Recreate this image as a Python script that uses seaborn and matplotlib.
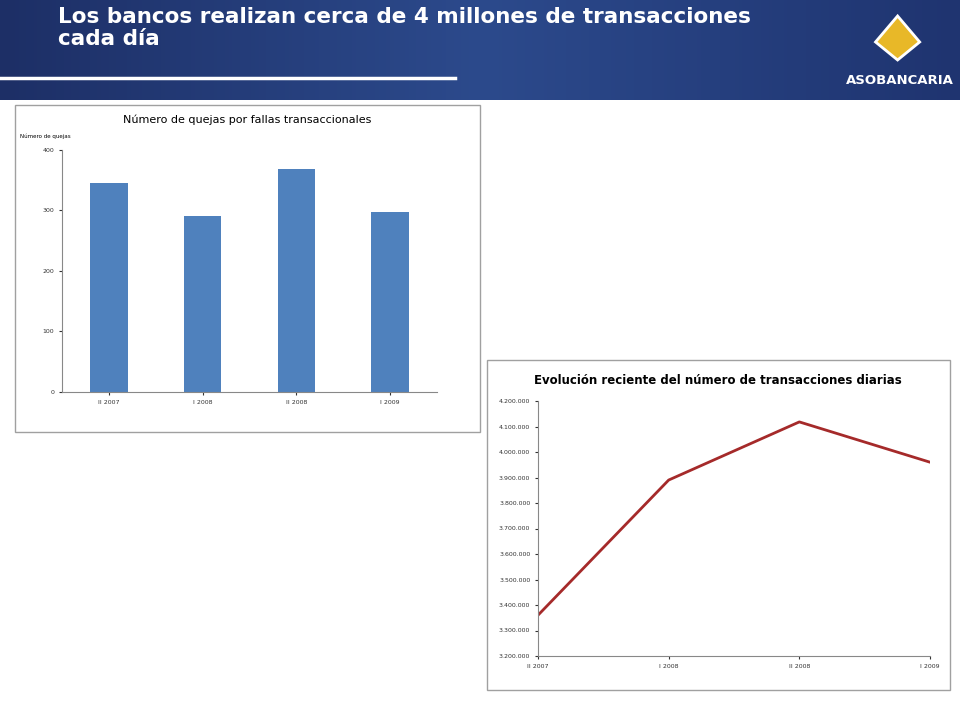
import numpy as np
import pandas as pd
import matplotlib
matplotlib.use("Agg")
import matplotlib.pyplot as plt
import seaborn as sns
from matplotlib.patches import Rectangle, Polygon
from matplotlib.ticker import FuncFormatter

# --- datos ---
periodos_quejas = ["II 2007", "I 2008", "II 2008", "I 2009"]
quejas = [345, 291, 368, 297]

periodos_trans = ["II 2007", "I 2008", "II 2008", "I 2009"]
transacciones = [3360000, 3890000, 4118000, 3960000]

W, H = 960, 720
fig = plt.figure(figsize=(9.6, 7.2), dpi=100)
fig.patch.set_facecolor("white")

def fx(px): return px / W
def fy(py): return 1 - py / H

# encabezado azul con degradado
grad = np.linspace(0, 1, 256).reshape(1, -1)
hdr = fig.add_axes([0, fy(100), 1, 100 / H])
hdr.imshow(grad, aspect="auto", cmap=matplotlib.colors.LinearSegmentedColormap.from_list(
    "h", ["#1d2f66", "#2c4a8c", "#1f3470"]), extent=[0, 1, 0, 1])
hdr.axis("off")
hdr.plot([0, 0.474], [0.22, 0.22], color="white", lw=2.5)
hdr.text(0.06, 0.93, "Los bancos realizan cerca de 4 millones de transacciones\ncada día",
         color="white", fontsize=15.5, fontweight="bold", va="top", ha="left",
         linespacing=1.1, family="DejaVu Sans")
hdr.text(0.937, 0.20, "ASOBANCARIA", color="white", fontsize=9.5, fontweight="bold",
         ha="center", va="center")
hdr.add_patch(Polygon([[0.935, 0.84], [0.912, 0.58], [0.935, 0.40], [0.958, 0.58]],
                      closed=True, facecolor="#e8b828", edgecolor="white", lw=2))
hdr.set_xlim(0, 1); hdr.set_ylim(0, 1)

# marcos de los gráficos
for (x0, y0, x1, y1) in [(15, 105, 480, 432), (487, 360, 950, 690)]:
    fig.patches.append(Rectangle((fx(x0), fy(y1)), fx(x1 - x0), (y1 - y0) / H,
                                 transform=fig.transFigure, fill=False,
                                 edgecolor="#a0a0a0", lw=1))

small = 4.5

# --- gráfico de barras ---
ax1 = fig.add_axes([fx(62), fy(392), fx(437 - 62), (392 - 150) / H])
df1 = pd.DataFrame({"periodo": periodos_quejas, "quejas": quejas})
sns.barplot(data=df1, x="periodo", y="quejas", color="#4f81bd", width=0.4,
            saturation=1, ax=ax1)
ax1.set_ylim(0, 400)
ax1.set_yticks([0, 100, 200, 300, 400])
ax1.set_xlabel(""); ax1.set_ylabel("")
ax1.tick_params(labelsize=small, length=2, colors="#333333")
for s in ["top", "right"]:
    ax1.spines[s].set_visible(False)
for s in ["left", "bottom"]:
    ax1.spines[s].set_color("#888888")
fig.text(fx(247), fy(120), "Número de quejas por fallas transaccionales",
         ha="center", va="center", fontsize=8)
fig.text(fx(20), fy(136), "Número de quejas", fontsize=4, va="center")

# --- gráfico de líneas ---
ax2 = fig.add_axes([fx(538), fy(656), fx(930 - 538), (656 - 401) / H])
df2 = pd.DataFrame({"x": range(len(periodos_trans)), "t": transacciones})
sns.lineplot(data=df2, x="x", y="t", color="#a52a2a", lw=2, ax=ax2)
ax2.set_xlim(0, 3)
ax2.set_ylim(3200000, 4200000)
ax2.set_yticks(np.arange(3200000, 4200001, 100000))
ax2.yaxis.set_major_formatter(FuncFormatter(lambda v, p: f"{int(v):,}".replace(",", ".")))
ax2.set_xticks(range(len(periodos_trans)))
ax2.set_xticklabels(periodos_trans)
ax2.set_xlabel(""); ax2.set_ylabel("")
ax2.tick_params(labelsize=small, length=2, colors="#333333")
for s in ["top", "right"]:
    ax2.spines[s].set_visible(False)
for s in ["left", "bottom"]:
    ax2.spines[s].set_color("#888888")
fig.text(fx(718), fy(380), "Evolución reciente del número de transacciones diarias",
         ha="center", va="center", fontsize=8.5, fontweight="bold")

fig.savefig("out.png", dpi=100)
